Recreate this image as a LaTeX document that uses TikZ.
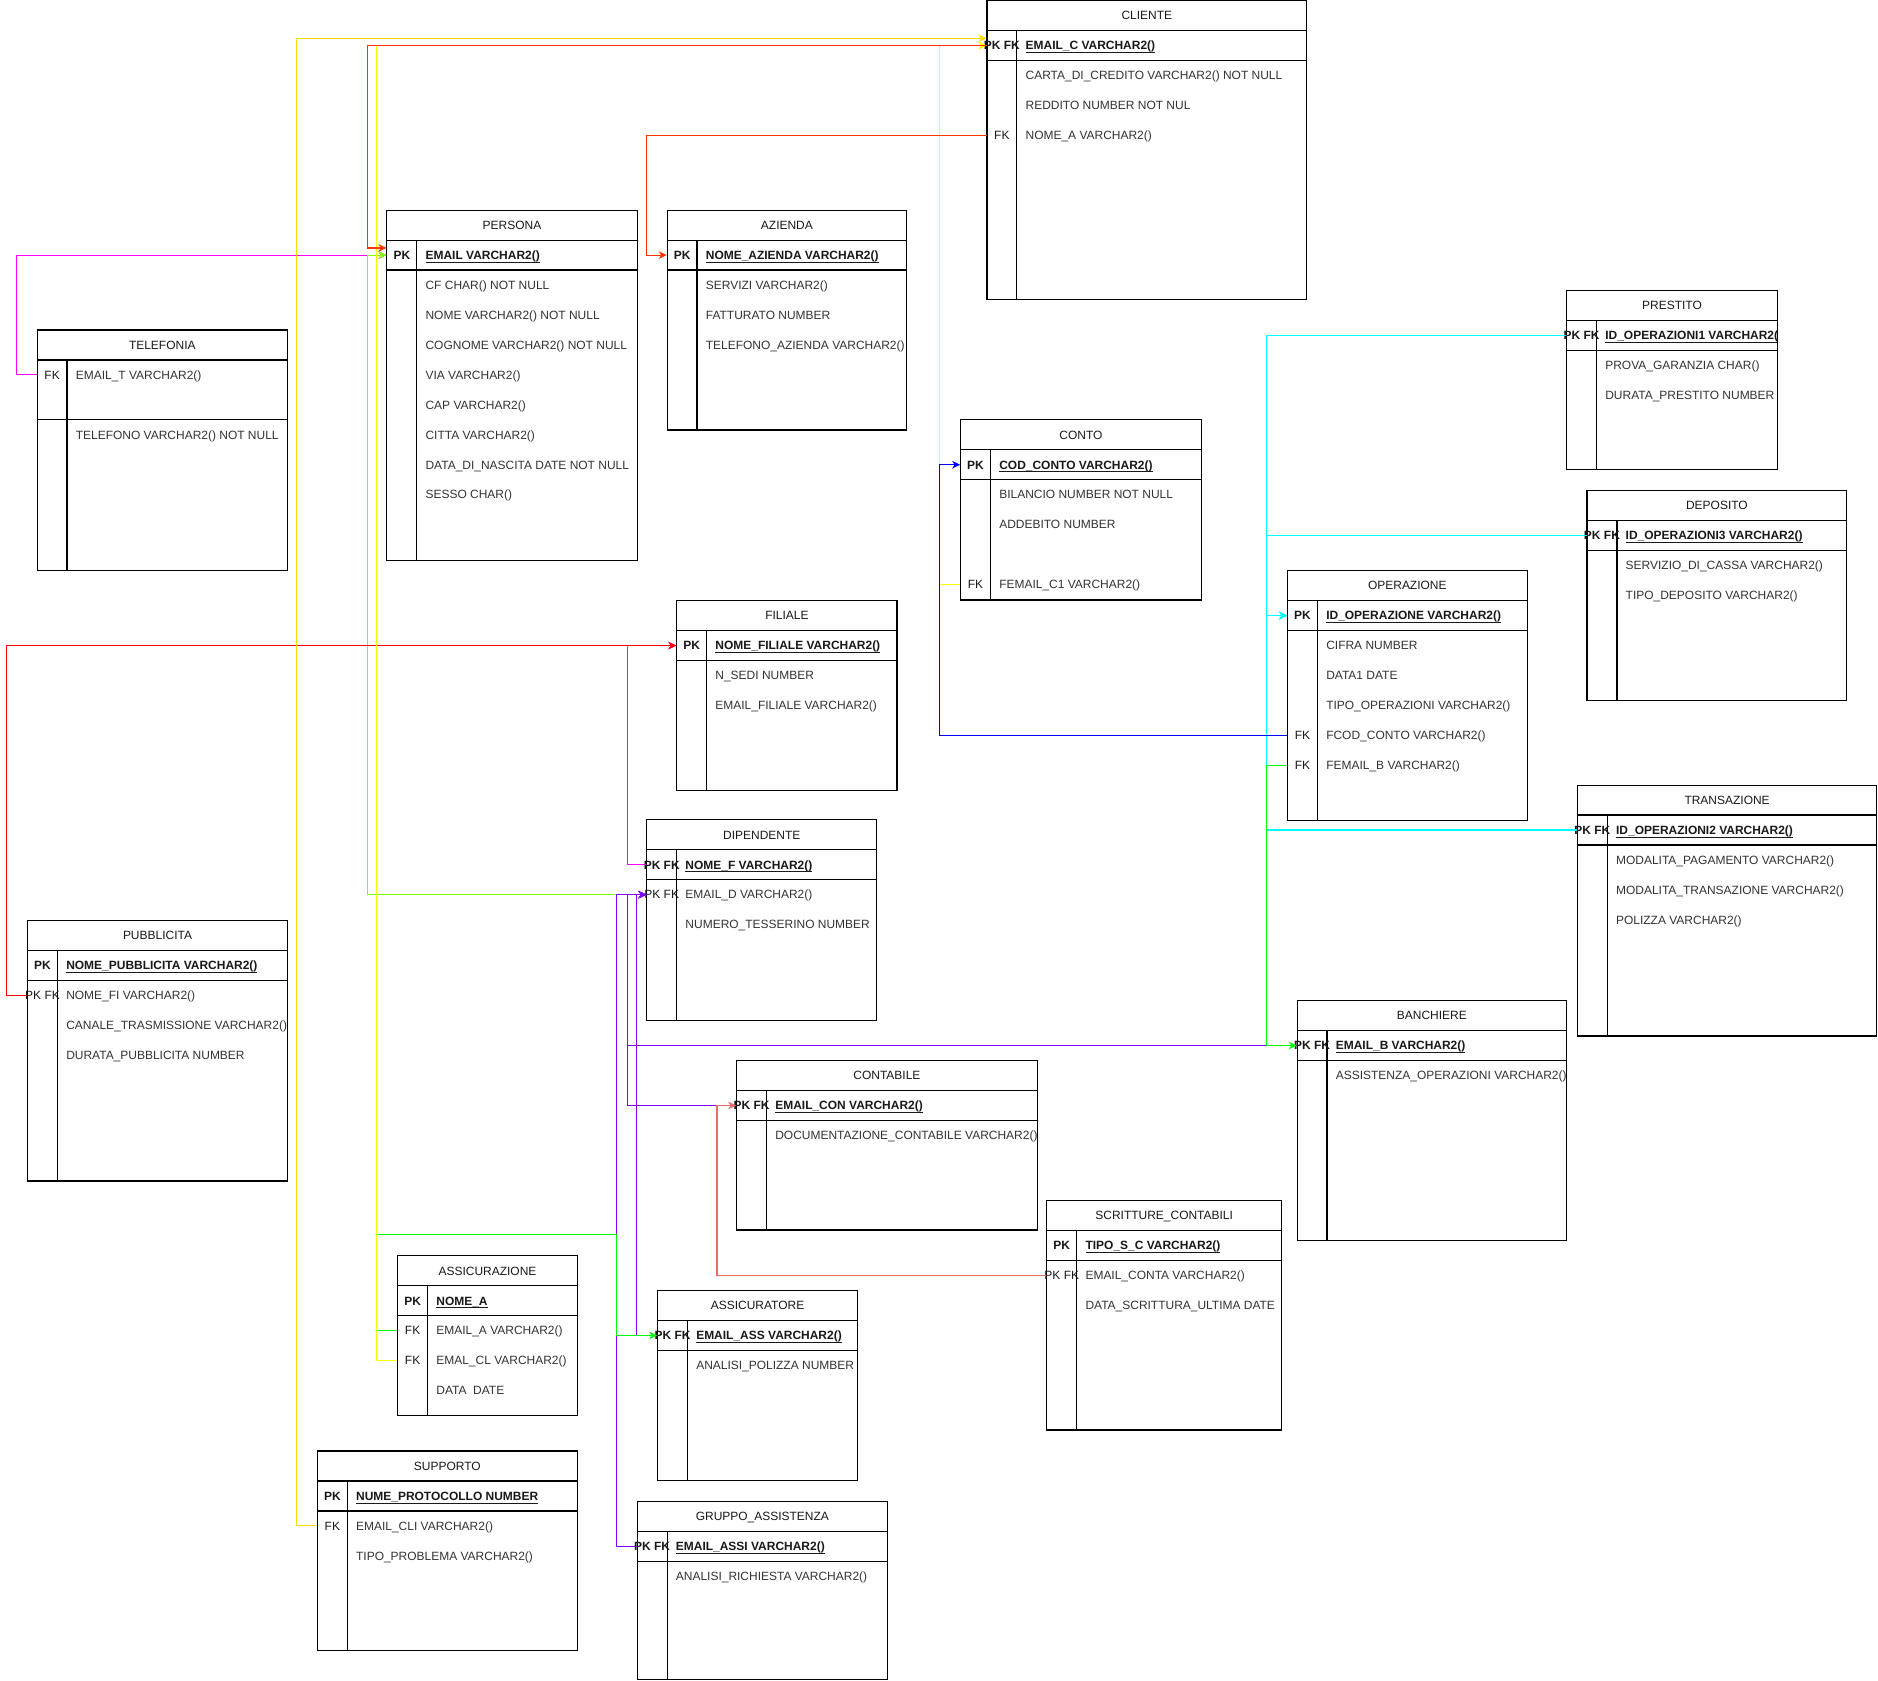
\documentclass[tikz,border=0pt]{standalone}
\usepackage{fontspec}
\setmainfont{Liberation Sans}
\usetikzlibrary{arrows.meta,calc}

\newcommand{\erfont}{\fontsize{6pt}{7pt}\selectfont}
\newcommand{\keytext}[1]{\makebox[0pt]{#1}}
\newcommand{\pkname}[1]{\underline{\smash{#1}}}

\definecolor{fkyellow}{RGB}{255,255,0}
\definecolor{fkgold}{RGB}{255,221,0}
\definecolor{fkred}{RGB}{255,51,0}
\definecolor{fkpure}{RGB}{255,0,0}
\definecolor{fkmagenta}{RGB}{255,0,255}
\definecolor{fklime}{RGB}{128,255,0}
\definecolor{fkgreen}{RGB}{0,255,0}
\definecolor{fkcyan}{RGB}{0,255,255}
\definecolor{fkblue}{RGB}{0,0,255}
\definecolor{fkpurple}{RGB}{127,0,255}
\definecolor{fksalmon}{RGB}{234,107,102}

\tikzset{
  tabframe/.style={draw=black, line width=0.6pt},
  tabtitle/.style={font=\erfont, text=black!90, inner sep=0pt, text height=4.3pt, text depth=0pt},
  keycell/.style={font=\erfont, text=black!90, minimum width=15pt, minimum height=15pt, inner sep=0pt, text height=4.3pt, text depth=0pt},
  field/.style={font=\erfont, text=black!80, anchor=west, inner sep=0pt, text height=4.3pt, text depth=0pt},
  pkfield/.style={field, font=\erfont\bfseries, text=black!90},
  fkline/.style={line width=0.6pt, -{Stealth[length=4pt,width=3.8pt,inset=1.2pt]}},
}

\begin{document}
\begin{tikzpicture}[x=0.6pt, y=-0.6pt]

        \fill[white] (0,0) rectangle (1568,1403.5);
        \useasboundingbox (0,0) rectangle (1568,1403.5);

        % CLIENTE
        \draw[tabframe] (824,0.5) rectangle (1091,250) (824,25.5) -- (1091,25.5) (824,50.5) -- (1091,50.5) (849,25.5) -- (849,250);
        \node[tabtitle] (cliente) at (957.5,13) {CLIENTE};
        \node[keycell] (cliente-pk) at (836.5,38) {\keytext{\bfseries PK FK}};
        \node[pkfield] (cliente-f1) at (856,38) {\pkname{EMAIL\_C VARCHAR2()}};
        \node[field] (cliente-f2) at (856,63) {CARTA\_DI\_CREDITO VARCHAR2() NOT NULL};
        \node[field] (cliente-f3) at (856,88) {REDDITO NUMBER NOT NUL};
        \node[keycell] (cliente-fk) at (836.5,113) {\keytext{FK}};
        \node[field] (cliente-f4) at (856,113) {NOME\_A VARCHAR2()};

        % PERSONA
        \draw[tabframe] (323,175.5) rectangle (532,468) (323,200.5) -- (532,200.5) (323,225.5) -- (532,225.5) (348,200.5) -- (348,468);
        \node[tabtitle] (persona) at (427.5,188) {PERSONA};
        \node[keycell] (persona-pk) at (335.5,213) {\keytext{\bfseries PK}};
        \node[pkfield] (persona-f1) at (355,213) {\pkname{EMAIL VARCHAR2()}};
        \node[field] (persona-f2) at (355,238) {CF CHAR() NOT NULL};
        \node[field] (persona-f3) at (355,263) {NOME VARCHAR2() NOT NULL};
        \node[field] (persona-f4) at (355,288) {COGNOME VARCHAR2() NOT NULL};
        \node[field] (persona-f5) at (355,313) {VIA VARCHAR2()};
        \node[field] (persona-f6) at (355,338) {CAP VARCHAR2()};
        \node[field] (persona-f7) at (355,363) {CITTA VARCHAR2()};
        \node[field] (persona-f8) at (355,388) {DATA\_DI\_NASCITA DATE NOT NULL};
        \node[field] (persona-f9) at (355,413) {SESSO CHAR()};

        % AZIENDA
        \draw[tabframe] (557,175.5) rectangle (757,359) (557,200.5) -- (757,200.5) (557,225.5) -- (757,225.5) (582,200.5) -- (582,359);
        \node[tabtitle] (azienda) at (657,188) {AZIENDA};
        \node[keycell] (azienda-pk) at (569.5,213) {\keytext{\bfseries PK}};
        \node[pkfield] (azienda-f1) at (589,213) {\pkname{NOME\_AZIENDA VARCHAR2()}};
        \node[field] (azienda-f2) at (589,238) {SERVIZI VARCHAR2()};
        \node[field] (azienda-f3) at (589,263) {FATTURATO NUMBER};
        \node[field] (azienda-f4) at (589,288) {TELEFONO\_AZIENDA VARCHAR2()};

        % TELEFONIA
        \draw[tabframe] (31,275.5) rectangle (240,476) (31,300.5) -- (240,300.5) (31,350.5) -- (240,350.5) (56,300.5) -- (56,476);
        \node[tabtitle] (telefonia) at (135.5,288) {TELEFONIA};
        \node[keycell] (telefonia-fk) at (43.5,313) {\keytext{FK}};
        \node[field] (telefonia-f1) at (63,313) {EMAIL\_T VARCHAR2()};
        \node[field] (telefonia-f2) at (63,363) {TELEFONO VARCHAR2() NOT NULL};

        % CONTO
        \draw[tabframe] (802,350.5) rectangle (1003,501) (802,375.5) -- (1003,375.5) (802,400.5) -- (1003,400.5) (827,375.5) -- (827,501);
        \node[tabtitle] (conto) at (902.5,363) {CONTO};
        \node[keycell] (conto-pk) at (814.5,388) {\keytext{\bfseries PK}};
        \node[pkfield] (conto-f1) at (834,388) {\pkname{COD\_CONTO VARCHAR2()}};
        \node[field] (conto-f2) at (834,413) {BILANCIO NUMBER NOT NULL};
        \node[field] (conto-f3) at (834,438) {ADDEBITO NUMBER};
        \node[keycell] (conto-fk) at (814.5,488) {\keytext{FK}};
        \node[field] (conto-f4) at (834,488) {FEMAIL\_C1 VARCHAR2()};

        % PRESTITO
        \draw[tabframe] (1308,242.5) rectangle (1484,392) (1308,267.5) -- (1484,267.5) (1308,292.5) -- (1484,292.5) (1333,267.5) -- (1333,392);
        \node[tabtitle] (prestito) at (1396,255) {PRESTITO};
        \node[keycell] (prestito-pk) at (1320.5,280) {\keytext{\bfseries PK FK}};
        \node[pkfield] (prestito-f1) at (1340,280) {\pkname{ID\_OPERAZIONI1 VARCHAR2(}};
        \node[field] (prestito-f2) at (1340,305) {PROVA\_GARANZIA CHAR()};
        \node[field] (prestito-f3) at (1340,330) {DURATA\_PRESTITO NUMBER};

        % DEPOSITO
        \draw[tabframe] (1325,409.5) rectangle (1542,585) (1325,434.5) -- (1542,434.5) (1325,459.5) -- (1542,459.5) (1350,434.5) -- (1350,585);
        \node[tabtitle] (deposito) at (1433.5,422) {DEPOSITO};
        \node[keycell] (deposito-pk) at (1337.5,447) {\keytext{\bfseries PK FK}};
        \node[pkfield] (deposito-f1) at (1357,447) {\pkname{ID\_OPERAZIONI3 VARCHAR2()}};
        \node[field] (deposito-f2) at (1357,472) {SERVIZIO\_DI\_CASSA VARCHAR2()};
        \node[field] (deposito-f3) at (1357,497) {TIPO\_DEPOSITO VARCHAR2()};

        % OPERAZIONE
        \draw[tabframe] (1075,476.5) rectangle (1275,685) (1075,501.5) -- (1275,501.5) (1075,526.5) -- (1275,526.5) (1100,501.5) -- (1100,685);
        \node[tabtitle] (operazione) at (1175,489) {OPERAZIONE};
        \node[keycell] (operazione-pk) at (1087.5,514) {\keytext{\bfseries PK}};
        \node[pkfield] (operazione-f1) at (1107,514) {\pkname{ID\_OPERAZIONE VARCHAR2()}};
        \node[field] (operazione-f2) at (1107,539) {CIFRA NUMBER};
        \node[field] (operazione-f3) at (1107,564) {DATA1 DATE};
        \node[field] (operazione-f4) at (1107,589) {TIPO\_OPERAZIONI VARCHAR2()};
        \node[keycell] (operazione-fk1) at (1087.5,614) {\keytext{FK}};
        \node[field] (operazione-f5) at (1107,614) {FCOD\_CONTO VARCHAR2()};
        \node[keycell] (operazione-fk2) at (1087.5,639) {\keytext{FK}};
        \node[field] (operazione-f6) at (1107,639) {FEMAIL\_B VARCHAR2()};

        % TRANSAZIONE
        \draw[tabframe] (1317,655.5) rectangle (1567,865) (1317,680.5) -- (1567,680.5) (1317,705.5) -- (1567,705.5) (1342,680.5) -- (1342,865);
        \node[tabtitle] (transazione) at (1442,668) {TRANSAZIONE};
        \node[keycell] (transazione-pk) at (1329.5,693) {\keytext{\bfseries PK FK}};
        \node[pkfield] (transazione-f1) at (1349,693) {\pkname{ID\_OPERAZIONI2 VARCHAR2()}};
        \node[field] (transazione-f2) at (1349,718) {MODALITA\_PAGAMENTO VARCHAR2()};
        \node[field] (transazione-f3) at (1349,743) {MODALITA\_TRANSAZIONE VARCHAR2()};
        \node[field] (transazione-f4) at (1349,768) {POLIZZA VARCHAR2()};

        % FILIALE
        \draw[tabframe] (565,501.5) rectangle (749,660) (565,526.5) -- (749,526.5) (565,551.5) -- (749,551.5) (590,526.5) -- (590,660);
        \node[tabtitle] (filiale) at (657,514) {FILIALE};
        \node[keycell] (filiale-pk) at (577.5,539) {\keytext{\bfseries PK}};
        \node[pkfield] (filiale-f1) at (597,539) {\pkname{NOME\_FILIALE VARCHAR2()}};
        \node[field] (filiale-f2) at (597,564) {N\_SEDI NUMBER};
        \node[field] (filiale-f3) at (597,589) {EMAIL\_FILIALE VARCHAR2()};

        % DIPENDENTE
        \draw[tabframe] (540,684.5) rectangle (732,852) (540,709.5) -- (732,709.5) (540,734.5) -- (732,734.5) (565,709.5) -- (565,852);
        \node[tabtitle] (dipendente) at (636,697) {DIPENDENTE};
        \node[keycell] (dipendente-pk) at (552.5,722) {\keytext{\bfseries PK FK}};
        \node[pkfield] (dipendente-f1) at (572,722) {\pkname{NOME\_F VARCHAR2()}};
        \node[keycell] (dipendente-fk) at (552.5,747) {\keytext{PK FK}};
        \node[field] (dipendente-f2) at (572,747) {EMAIL\_D VARCHAR2()};
        \node[field] (dipendente-f3) at (572,772) {NUMERO\_TESSERINO NUMBER};

        % PUBBLICITA
        \draw[tabframe] (23,768.5) rectangle (240,986) (23,793.5) -- (240,793.5) (23,818.5) -- (240,818.5) (48,793.5) -- (48,986);
        \node[tabtitle] (pubblicita) at (131.5,781) {PUBBLICITA};
        \node[keycell] (pubblicita-pk) at (35.5,806) {\keytext{\bfseries PK}};
        \node[pkfield] (pubblicita-f1) at (55,806) {\pkname{NOME\_PUBBLICITA VARCHAR2()}};
        \node[keycell] (pubblicita-fk) at (35.5,831) {\keytext{PK FK}};
        \node[field] (pubblicita-f2) at (55,831) {NOME\_FI VARCHAR2()};
        \node[field] (pubblicita-f3) at (55,856) {CANALE\_TRASMISSIONE VARCHAR2()};
        \node[field] (pubblicita-f4) at (55,881) {DURATA\_PUBBLICITA NUMBER};

        % BANCHIERE
        \draw[tabframe] (1083,835.5) rectangle (1308,1036) (1083,860.5) -- (1308,860.5) (1083,885.5) -- (1308,885.5) (1108,860.5) -- (1108,1036);
        \node[tabtitle] (banchiere) at (1195.5,848) {BANCHIERE};
        \node[keycell] (banchiere-pk) at (1095.5,873) {\keytext{\bfseries PK FK}};
        \node[pkfield] (banchiere-f1) at (1115,873) {\pkname{EMAIL\_B VARCHAR2()}};
        \node[field] (banchiere-f2) at (1115,898) {ASSISTENZA\_OPERAZIONI VARCHAR2()};

        % CONTABILE
        \draw[tabframe] (615,885.5) rectangle (866,1027) (615,910.5) -- (866,910.5) (615,935.5) -- (866,935.5) (640,910.5) -- (640,1027);
        \node[tabtitle] (contabile) at (740.5,898) {CONTABILE};
        \node[keycell] (contabile-pk) at (627.5,923) {\keytext{\bfseries PK FK}};
        \node[pkfield] (contabile-f1) at (647,923) {\pkname{EMAIL\_CON VARCHAR2()}};
        \node[field] (contabile-f2) at (647,948) {DOCUMENTAZIONE\_CONTABILE VARCHAR2()};

        % SCRITTURE_CONTABILI
        \draw[tabframe] (874,1002.5) rectangle (1070,1194) (874,1027.5) -- (1070,1027.5) (874,1052.5) -- (1070,1052.5) (899,1027.5) -- (899,1194);
        \node[tabtitle] (scritture) at (972,1015) {SCRITTURE\_CONTABILI};
        \node[keycell] (scritture-pk) at (886.5,1040) {\keytext{\bfseries PK}};
        \node[pkfield] (scritture-f1) at (906,1040) {\pkname{TIPO\_S\_C VARCHAR2()}};
        \node[keycell] (scritture-fk) at (886.5,1065) {\keytext{PK FK}};
        \node[field] (scritture-f2) at (906,1065) {EMAIL\_CONTA VARCHAR2()};
        \node[field] (scritture-f3) at (906,1090) {DATA\_SCRITTURA\_ULTIMA DATE};

        % ASSICURAZIONE
        \draw[tabframe] (332,1048.5) rectangle (482,1182) (332,1073.5) -- (482,1073.5) (332,1098.5) -- (482,1098.5) (357,1073.5) -- (357,1182);
        \node[tabtitle] (assicurazione) at (407,1061) {ASSICURAZIONE};
        \node[keycell] (assicurazione-pk) at (344.5,1086) {\keytext{\bfseries PK}};
        \node[pkfield] (assicurazione-f1) at (364,1086) {\pkname{NOME\_A}};
        \node[keycell] (assicurazione-fk1) at (344.5,1111) {\keytext{FK}};
        \node[field] (assicurazione-f2) at (364,1111) {EMAIL\_A VARCHAR2()};
        \node[keycell] (assicurazione-fk2) at (344.5,1136) {\keytext{FK}};
        \node[field] (assicurazione-f3) at (364,1136) {EMAL\_CL VARCHAR2()};
        \node[field] (assicurazione-f4) at (364,1161) {DATA\ \ DATE};

        % ASSICURATORE
        \draw[tabframe] (549,1077.5) rectangle (716,1236) (549,1102.5) -- (716,1102.5) (549,1127.5) -- (716,1127.5) (574,1102.5) -- (574,1236);
        \node[tabtitle] (assicuratore) at (632.5,1090) {ASSICURATORE};
        \node[keycell] (assicuratore-pk) at (561.5,1115) {\keytext{\bfseries PK FK}};
        \node[pkfield] (assicuratore-f1) at (581,1115) {\pkname{EMAIL\_ASS VARCHAR2()}};
        \node[field] (assicuratore-f2) at (581,1140) {ANALISI\_POLIZZA NUMBER};

        % SUPPORTO
        \draw[tabframe] (265,1211.5) rectangle (482,1378) (265,1236.5) -- (482,1236.5) (265,1261.5) -- (482,1261.5) (290,1236.5) -- (290,1378);
        \node[tabtitle] (supporto) at (373.5,1224) {SUPPORTO};
        \node[keycell] (supporto-pk) at (277.5,1249) {\keytext{\bfseries PK}};
        \node[pkfield] (supporto-f1) at (297,1249) {\pkname{NUME\_PROTOCOLLO NUMBER}};
        \node[keycell] (supporto-fk) at (277.5,1274) {\keytext{FK}};
        \node[field] (supporto-f2) at (297,1274) {EMAIL\_CLI VARCHAR2()};
        \node[field] (supporto-f3) at (297,1299) {TIPO\_PROBLEMA VARCHAR2()};

        % GRUPPO_ASSISTENZA
        \draw[tabframe] (532,1253.5) rectangle (741,1402.5) (532,1278.5) -- (741,1278.5) (532,1303.5) -- (741,1303.5) (557,1278.5) -- (557,1402.5);
        \node[tabtitle] (gruppo) at (636.5,1266) {GRUPPO\_ASSISTENZA};
        \node[keycell] (gruppo-pk) at (544.5,1291) {\keytext{\bfseries PK FK}};
        \node[pkfield] (gruppo-f1) at (564,1291) {\pkname{EMAIL\_ASSI VARCHAR2()}};
        \node[field] (gruppo-f2) at (564,1316) {ANALISI\_RICHIESTA VARCHAR2()};

        % connectors
        \draw[fkline, fkcyan] (prestito-pk.west) -- ++(-250,0) |- (operazione-pk.west);
        \draw[fkline, fkcyan] (deposito-pk.west) -- ++(-267,0) |- (operazione-pk.west);
        \draw[fkline, fkcyan] (transazione-pk.west) -- ++(-259,0) |- (operazione-pk.west);

        \draw[fkline, fkmagenta] (telefonia-fk.west) -- ++(-17,0) |- (persona-pk.west);
        \draw[fkline, fklime] (dipendente-fk.west) -- ++(-233,0) |- (persona-pk.west);
        \draw[fkline, fkmagenta] (dipendente-pk.west) -- ++(-16,0) |- (filiale-pk.west);
        \draw[fkline, fkpure] (pubblicita-fk.west) -- ++(-17,0) |- (filiale-pk.west);

        \draw[fkline, fkpurple] (banchiere-pk.west) -- ++(-559,0) |- (dipendente-fk.west);
        \draw[fkline, fkpurple] (contabile-pk.west) -- ++(-91,0) |- (dipendente-fk.west);
        \draw[fkline, fkpurple] (assicuratore-pk.west) -- ++(-17,0) |- (dipendente-fk.west);
        \draw[fkline, fkpurple] (gruppo-pk.west) -- ++(-17,0) |- (dipendente-fk.west);

        \draw[fkline, fkgreen] (operazione-fk2.west) -- ++(-17,0) |- (banchiere-pk.west);
        \draw[fkline, fkgreen] (assicurazione-fk1.west) -- ++(-17,0) -- ++(0,-80) -- ++(200,0) |- (assicuratore-pk.west);
        \draw[fkline, fksalmon] (scritture-fk.west) -- ++(-275,0) |- (contabile-pk.west);

        \draw[fkline, fkgold] (supporto-fk.west) -- ++(-17,0) |- ($(cliente-pk.west)+(0,-6)$);
        \draw[fkline, fkyellow] (assicurazione-fk2.west) -- ++(-17,0) |- (cliente-pk.west);
        \draw[fkline, fkyellow] (conto-fk.west) -- ++(-17,0) |- (cliente-pk.west);

        \draw[fkline, fkblue] (operazione-fk1.west) -- ++(-290,0) |- (conto-pk.west);
        \draw[fkline, fkred] (cliente-pk.west) -- ++(-517,0) |- ($(persona-pk.west)+(0,-6)$);
        \draw[fkline, fkred] (cliente-fk.west) -- ++(-284,0) |- (azienda-pk.west);

\end{tikzpicture}
\end{document}
